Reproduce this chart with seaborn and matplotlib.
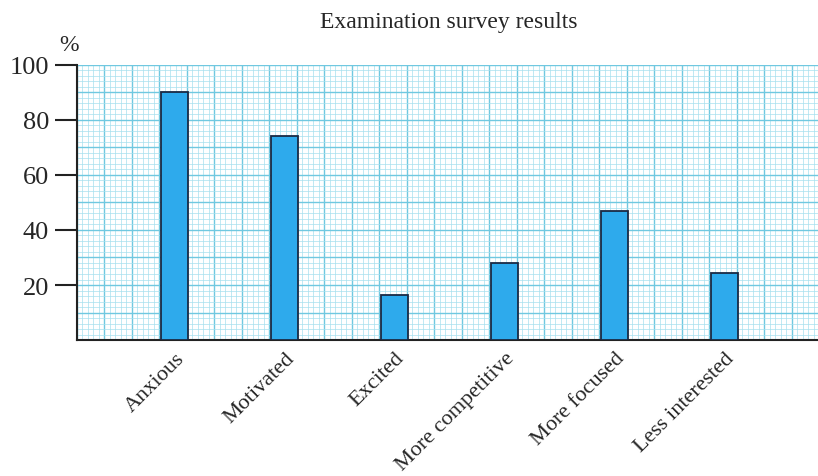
import numpy as np
import pandas as pd
import matplotlib
matplotlib.use("Agg")
import matplotlib.pyplot as plt
import seaborn as sns

categories = ["Anxious", "Motivated", "Excited", "More competitive", "More focused", "Less interested"]
values = [90, 74, 16.5, 28, 47, 24.5]
yticks = [20, 40, 60, 80, 100]

df = pd.DataFrame({"feeling": categories, "pct": values})

sns.set_style("white")
plt.rcParams["font.family"] = ["Liberation Serif", "DejaVu Serif"]

fig = plt.figure(figsize=(8.18, 4.77), dpi=100)
ax = fig.add_axes([0.094, 0.285, 0.906, 0.577])

x0, x1 = -0.89, 5.85
ax.set_xlim(x0, x1)
ax.set_ylim(0, 100)

# graph paper grid
minor_c = "#a6e0ee"
major_c = "#70c8e0"
for i, xv in enumerate(np.arange(x0, x1 + 1e-9, 0.05)):
    major = (i % 5 == 0)
    ax.axvline(xv, color=major_c if major else minor_c, lw=1.0 if major else 0.5, zorder=0)
for i, yv in enumerate(np.arange(0, 100.001, 2)):
    major = (i % 5 == 0)
    ax.axhline(yv, color=major_c if major else minor_c, lw=1.0 if major else 0.5, zorder=0)

sns.barplot(data=df, x="feeling", y="pct", hue="feeling", legend=False,
            palette=["#2eaaec"] * len(categories), width=0.25,
            edgecolor="#1a2a44", linewidth=1.3, saturation=1, ax=ax, zorder=3)
ax.set_xlim(x0, x1)
ax.set_ylim(0, 100)

ax.set_yticks(yticks)
ax.set_yticklabels([str(v) for v in yticks], fontsize=19)
ax.tick_params(axis="y", direction="out", length=16, width=1.5, color="#222222", pad=4, left=True)
ax.tick_params(axis="x", length=0, pad=6)
ax.set_xticks(range(len(categories)))
ax.set_xticklabels(categories, rotation=45, ha="right", rotation_mode="anchor", fontsize=16)
ax.set_xlabel("")
ax.set_ylabel("")

for s in ["top", "right"]:
    ax.spines[s].set_visible(False)
ax.spines["left"].set_color("#222222")
ax.spines["left"].set_linewidth(1.5)
ax.spines["bottom"].set_color("#222222")
ax.spines["bottom"].set_linewidth(1.5)

fig.text(0.549, 0.952, "Examination survey results", ha="center", va="center", fontsize=17)
ax.text(-0.01, 1.035, "%", transform=ax.transAxes, ha="center", va="bottom", fontsize=17)

fig.savefig("out.png", dpi=100, facecolor="white")
